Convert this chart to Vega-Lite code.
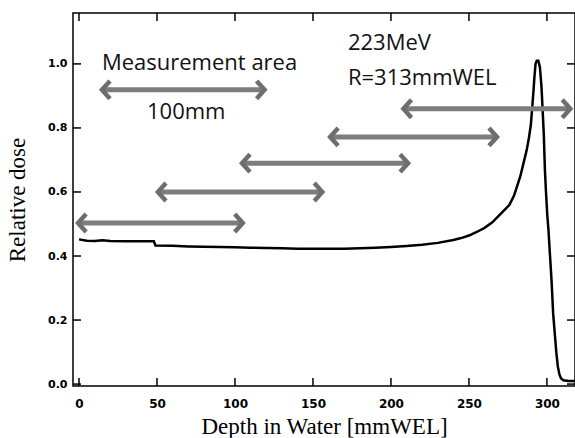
{
  "$schema": "https://vega.github.io/schema/vega-lite/v6.json",
  "width": 502,
  "height": 373,
  "autosize": "none",
  "padding": {"left": 73, "top": 13, "right": 0, "bottom": 52},
  "background": "white",
  "config": {
    "view": {"stroke": "black", "strokeWidth": 1.5},
    "axis": {
      "domain": false,
      "grid": false,
      "ticks": true,
      "tickSize": 0,
      "labelColor": "black",
      "titleColor": "black",
      "titleFont": "Liberation Serif",
      "titleFontWeight": "normal",
      "titleFontSize": 23,
      "labelFont": "DejaVu Sans",
      "labelFontSize": 12,
      "labelFontWeight": "bold"
    }
  },
  "datasets": {
    "curve": [
      {"depth": 0, "dose": 0.452}, {"depth": 5, "dose": 0.448}, {"depth": 10, "dose": 0.447},
      {"depth": 15, "dose": 0.449}, {"depth": 20, "dose": 0.447}, {"depth": 30, "dose": 0.446},
      {"depth": 40, "dose": 0.446}, {"depth": 48, "dose": 0.446}, {"depth": 49, "dose": 0.433},
      {"depth": 60, "dose": 0.432}, {"depth": 70, "dose": 0.43}, {"depth": 80, "dose": 0.429},
      {"depth": 90, "dose": 0.428}, {"depth": 100, "dose": 0.427}, {"depth": 110, "dose": 0.426},
      {"depth": 120, "dose": 0.425}, {"depth": 130, "dose": 0.424}, {"depth": 140, "dose": 0.423},
      {"depth": 150, "dose": 0.423}, {"depth": 160, "dose": 0.423}, {"depth": 170, "dose": 0.423},
      {"depth": 180, "dose": 0.424}, {"depth": 190, "dose": 0.426}, {"depth": 200, "dose": 0.428},
      {"depth": 210, "dose": 0.431}, {"depth": 220, "dose": 0.435}, {"depth": 230, "dose": 0.441},
      {"depth": 240, "dose": 0.45}, {"depth": 245, "dose": 0.456}, {"depth": 250, "dose": 0.464},
      {"depth": 255, "dose": 0.475}, {"depth": 260, "dose": 0.488}, {"depth": 265, "dose": 0.505},
      {"depth": 270, "dose": 0.53}, {"depth": 273, "dose": 0.545}, {"depth": 276, "dose": 0.56},
      {"depth": 279, "dose": 0.59}, {"depth": 281, "dose": 0.62}, {"depth": 283, "dose": 0.65},
      {"depth": 285, "dose": 0.69}, {"depth": 287, "dose": 0.73}, {"depth": 288.5, "dose": 0.77},
      {"depth": 289.7, "dose": 0.81}, {"depth": 290.5, "dose": 0.86}, {"depth": 291.3, "dose": 0.91},
      {"depth": 292, "dose": 0.96}, {"depth": 292.7, "dose": 1.0}, {"depth": 293.5, "dose": 1.01},
      {"depth": 294.5, "dose": 1.01}, {"depth": 295.5, "dose": 0.99}, {"depth": 296.5, "dose": 0.93},
      {"depth": 297.3, "dose": 0.85}, {"depth": 298, "dose": 0.78}, {"depth": 298.7, "dose": 0.67},
      {"depth": 299.4, "dose": 0.6}, {"depth": 300.2, "dose": 0.53}, {"depth": 301, "dose": 0.48},
      {"depth": 302, "dose": 0.4}, {"depth": 303, "dose": 0.32}, {"depth": 304, "dose": 0.22},
      {"depth": 305, "dose": 0.16}, {"depth": 306, "dose": 0.1}, {"depth": 307, "dose": 0.055},
      {"depth": 308, "dose": 0.03}, {"depth": 309, "dose": 0.018}, {"depth": 310.5, "dose": 0.012},
      {"depth": 314, "dose": 0.01}, {"depth": 318, "dose": 0.01}
    ],
    "arrows": [
      {"start": 14.7, "end": 119, "level": 0.919},
      {"start": -0.6, "end": 105, "level": 0.503},
      {"start": 50.6, "end": 156, "level": 0.6},
      {"start": 104.5, "end": 211, "level": 0.69},
      {"start": 161, "end": 268, "level": 0.772},
      {"start": 208, "end": 315, "level": 0.86}
    ],
    "notes": [
      {"label": "Measurement area", "px": 14.7, "py": 1.003},
      {"label": "100mm", "px": 43.6, "py": 0.85},
      {"label": "223MeV", "px": 172.4, "py": 1.066},
      {"label": "R=313mmWEL", "px": 172.4, "py": 0.956}
    ],
    "xticks": [{"v": 0}, {"v": 50}, {"v": 100}, {"v": 150}, {"v": 200}, {"v": 250}, {"v": 300}],
    "yticks": [{"v": 0}, {"v": 0.2}, {"v": 0.4}, {"v": 0.6}, {"v": 0.8}, {"v": 1.0}]
  },
  "resolve": {"axis": {"x": "independent", "y": "independent"}},
  "layer": [
    {
      "data": {"name": "curve"},
      "mark": {"type": "line", "color": "black", "strokeWidth": 2.5, "interpolate": "linear"},
      "encoding": {
        "x": {
          "field": "depth", "type": "quantitative",
          "scale": {"domain": [-3.85, 318], "nice": false, "zero": false},
          "axis": {"orient": "bottom", "values": [0, 50, 100, 150, 200, 250, 300], "labelPadding": 12, "title": "Depth in Water [mmWEL]", "titlePadding": 6}
        },
        "y": {
          "field": "dose", "type": "quantitative",
          "scale": {"domain": [-0.006, 1.159], "nice": false, "zero": false},
          "axis": {"orient": "left", "values": [0, 0.2, 0.4, 0.6, 0.8, 1.0], "format": ".1f", "labelPadding": 6, "labelFontSize": 11, "title": "Relative dose", "titlePadding": 18}
        }
      }
    },
    {
      "data": {"name": "xticks"},
      "mark": {"type": "tick", "orient": "vertical", "color": "black", "size": 16, "thickness": 1.5, "clip": true, "opacity": 1},
      "encoding": {
        "x": {"field": "v", "type": "quantitative", "axis": null},
        "y": {"datum": -0.006, "type": "quantitative", "axis": null}
      }
    },
    {
      "data": {"name": "xticks"},
      "mark": {"type": "tick", "orient": "vertical", "color": "black", "size": 16, "thickness": 1.5, "clip": true, "opacity": 1},
      "encoding": {
        "x": {"field": "v", "type": "quantitative", "axis": null},
        "y": {"datum": 1.159, "type": "quantitative", "axis": null}
      }
    },
    {
      "data": {"name": "yticks"},
      "mark": {"type": "tick", "orient": "horizontal", "color": "black", "size": 16, "thickness": 1.5, "clip": true, "opacity": 1},
      "encoding": {
        "y": {"field": "v", "type": "quantitative", "axis": null},
        "x": {"datum": -3.85, "type": "quantitative", "axis": null}
      }
    },
    {
      "data": {"name": "yticks"},
      "mark": {"type": "tick", "orient": "horizontal", "color": "black", "size": 16, "thickness": 1.5, "clip": true, "opacity": 1},
      "encoding": {
        "y": {"field": "v", "type": "quantitative", "axis": null},
        "x": {"datum": 318, "type": "quantitative", "axis": null}
      }
    },
    {
      "data": {"name": "arrows"},
      "mark": {"type": "rule", "color": "#7d7d7d", "strokeWidth": 5},
      "encoding": {
        "x": {"field": "start", "type": "quantitative", "axis": null},
        "x2": {"field": "end"},
        "y": {"field": "level", "type": "quantitative", "axis": null}
      }
    },
    {
      "data": {"name": "arrows"},
      "mark": {"type": "point", "shape": "M 0.9 -1 L 0 0 L 0.9 1", "filled": false, "color": "#6e6e6e", "strokeWidth": 4.5, "size": 320, "opacity": 1},
      "encoding": {
        "x": {"field": "start", "type": "quantitative", "axis": null},
        "y": {"field": "level", "type": "quantitative", "axis": null}
      }
    },
    {
      "data": {"name": "arrows"},
      "mark": {"type": "point", "shape": "M -0.9 -1 L 0 0 L -0.9 1", "filled": false, "color": "#6e6e6e", "strokeWidth": 4.5, "size": 320, "opacity": 1},
      "encoding": {
        "x": {"field": "end", "type": "quantitative", "axis": null},
        "y": {"field": "level", "type": "quantitative", "axis": null}
      }
    },
    {
      "data": {"name": "notes"},
      "mark": {"type": "text", "align": "left", "baseline": "middle", "font": "Open Sans", "fontSize": 22, "color": "#111"},
      "encoding": {
        "x": {"field": "px", "type": "quantitative", "axis": null},
        "y": {"field": "py", "type": "quantitative", "axis": null},
        "text": {"field": "label"}
      }
    }
  ]
}
